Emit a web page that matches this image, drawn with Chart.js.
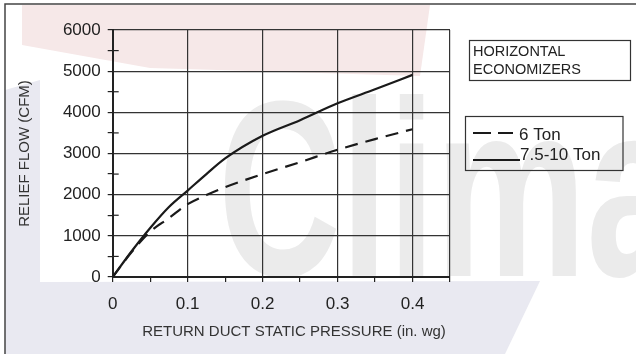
<!DOCTYPE html>
<html>
<head>
<meta charset="utf-8">
<script src="https://cdn.jsdelivr.net/npm/chart.js@4.4.1/dist/chart.umd.min.js"></script>
<style>
    html, body { margin: 0; padding: 0; background: #fff; }
    #wrap { width: 636px; height: 354px; position: relative; }
</style>
</head>
<body>
<div id="wrap"><canvas id="chart"></canvas></div>
<script>
const pressure = [0, 0.025, 0.05, 0.075, 0.1, 0.125, 0.15, 0.2, 0.25, 0.3, 0.35, 0.4];
const flow6Ton = [0, 600, 1100, 1430, 1770, 1990, 2180, 2500, 2790, 3090, 3350, 3590];
const flow75to10Ton = [0, 620, 1190, 1700, 2100, 2500, 2880, 3430, 3810, 4220, 4560, 4910];
const seriesLabels = ['6 Ton', '7.5-10 Ton'];
const xTicks = [0, 0.05, 0.1, 0.15, 0.2, 0.25, 0.3, 0.35, 0.4, 0.45];
const yTicks = [0, 500, 1000, 1500, 2000, 2500, 3000, 3500, 4000, 4500, 5000, 5500, 6000];
const boxTitle = ['HORIZONTAL', 'ECONOMIZERS'];

const FONT = "'Liberation Sans', Arial, sans-serif";
const INK = '#222';

function isMajorX(v) {
    return Math.abs(v * 10 - Math.round(v * 10)) < 1e-6 || v >= 0.45;
}

// faint logo behind the chart, plus the outer frame
const backdrop = {
    id: 'backdrop',
    beforeDraw(chart) {
        const ctx = chart.ctx;
        ctx.save();
        ctx.fillStyle = '#fff';
        ctx.fillRect(0, 0, chart.width, chart.height);

        ctx.fillStyle = '#f6e8e8';
        ctx.beginPath();
        ctx.moveTo(22, 5); ctx.lineTo(430, 5); ctx.lineTo(420, 76);
        ctx.lineTo(150, 68); ctx.lineTo(22, 45);
        ctx.closePath(); ctx.fill();

        ctx.fillStyle = '#e9e9f1';
        ctx.beginPath();
        ctx.moveTo(5, 90); ctx.lineTo(40, 80); ctx.lineTo(40, 282);
        ctx.lineTo(540, 281); ctx.lineTo(505, 354); ctx.lineTo(5, 354);
        ctx.closePath(); ctx.fill();

        ctx.fillStyle = '#ebebeb';
        ctx.font = 'bold 250px ' + FONT;
        ctx.translate(218, 276);
        ctx.scale(0.68, 1);
        ctx.fillText('Clima', 0, 0);
        ctx.restore();

        ctx.save();
        ctx.strokeStyle = '#444';
        ctx.lineWidth = 1.5;
        ctx.beginPath();
        ctx.moveTo(5, 354); ctx.lineTo(5, 4); ctx.lineTo(636, 4);
        ctx.stroke();
        ctx.restore();
    },
    afterDraw(chart) {
        const ctx = chart.ctx;
        const y = chart.scales.y;
        const x0 = chart.scales.x.getPixelForValue(0);
        ctx.save();
        // half-step ticks on the left axis go across it
        ctx.strokeStyle = INK;
        ctx.lineWidth = 1.2;
        yTicks.forEach(v => {
            if (v % 1000 === 0) return;
            const py = y.getPixelForValue(v);
            ctx.beginPath();
            ctx.moveTo(x0, py); ctx.lineTo(x0 + 6, py);
            ctx.stroke();
        });

        // note box
        ctx.strokeStyle = '#333';
        ctx.lineWidth = 1.2;
        ctx.strokeRect(469.5, 40.5, 161, 40);
        ctx.fillStyle = INK;
        ctx.font = '14.5px ' + FONT;
        ctx.textBaseline = 'alphabetic';
        ctx.fillText(boxTitle[0], 473, 55.5);
        ctx.fillText(boxTitle[1], 473, 74);

        // series legend
        ctx.strokeRect(465.5, 116.5, 157.5, 54);
        ctx.font = '17px ' + FONT;
        const rows = [133, 160];
        chart.data.datasets.forEach((ds, i) => {
            ctx.beginPath();
            ctx.lineWidth = 2.2;
            ctx.strokeStyle = ds.borderColor;
            ctx.setLineDash(i === 0 ? [18, 7] : []);
            ctx.moveTo(473, rows[i]);
            ctx.lineTo(i === 0 ? 513 : 520, rows[i]);
            ctx.stroke();
            ctx.setLineDash([]);
            ctx.fillText(ds.label, i === 0 ? 519 : 520, i === 0 ? 139.5 : 160);
        });
        ctx.restore();
    }
};

const ctx = document.getElementById('chart').getContext('2d');
new Chart(ctx, {
    type: 'line',
    data: {
        datasets: [
            {
                label: seriesLabels[0],
                data: pressure.map((p, i) => ({ x: p, y: flow6Ton[i] })),
                borderColor: '#1a1a1a',
                borderWidth: 2.2,
                borderDash: [13, 8],
                pointRadius: 0,
                cubicInterpolationMode: 'monotone',
                fill: false
            },
            {
                label: seriesLabels[1],
                data: pressure.map((p, i) => ({ x: p, y: flow75to10Ton[i] })),
                borderColor: '#1a1a1a',
                borderWidth: 2.2,
                pointRadius: 0,
                cubicInterpolationMode: 'monotone',
                fill: false
            }
        ]
    },
    options: {
        responsive: true,
        maintainAspectRatio: false,
        animation: false,
        layout: { padding: { left: 5, top: 30, right: 186, bottom: 0 } },
        plugins: {
            legend: { display: false },
            tooltip: { enabled: false }
        },
        scales: {
            x: {
                type: 'linear',
                min: 0,
                max: 0.45,
                afterBuildTicks: s => { s.ticks = xTicks.map(v => ({ value: v })); },
                afterFit: s => { s.height = 77; },
                ticks: {
                    autoSkip: false,
                    maxRotation: 0,
                    padding: 12,
                    color: INK,
                    font: { size: 17, family: FONT },
                    callback: v => (isMajorX(v) && v < 0.45) ? String(Math.round(v * 10) / 10) : ''
                },
                grid: {
                    color: c => (c.tick && isMajorX(c.tick.value)) ? '#333' : 'transparent',
                    tickColor: INK,
                    tickLength: 5,
                    lineWidth: 1.2
                },
                border: { color: INK, width: 2 },
                title: {
                    display: true,
                    text: 'RETURN DUCT STATIC PRESSURE (in. wg) ',
                    align: 'end',
                    color: '#333',
                    font: { size: 15, family: FONT },
                    padding: { top: 4, bottom: 13 }
                }
            },
            y: {
                min: 0,
                max: 6000,
                afterBuildTicks: s => { s.ticks = yTicks.map(v => ({ value: v })); },
                afterFit: s => { s.width = 107.7; },
                ticks: {
                    autoSkip: false,
                    padding: 7,
                    color: INK,
                    font: { size: 17, family: FONT },
                    callback: v => v % 1000 === 0 ? String(v) : ''
                },
                grid: {
                    color: c => (c.tick && c.tick.value % 1000 === 0) ? '#333' : 'transparent',
                    tickColor: INK,
                    tickLength: 5,
                    lineWidth: 1.2
                },
                border: { color: INK, width: 2 },
                title: {
                    display: true,
                    text: 'RELIEF FLOW (CFM)',
                    color: '#333',
                    font: { size: 15, family: FONT },
                    padding: { top: 11, bottom: 0 }
                }
            }
        }
    },
    plugins: [backdrop]
});
</script>
</body>
</html>
